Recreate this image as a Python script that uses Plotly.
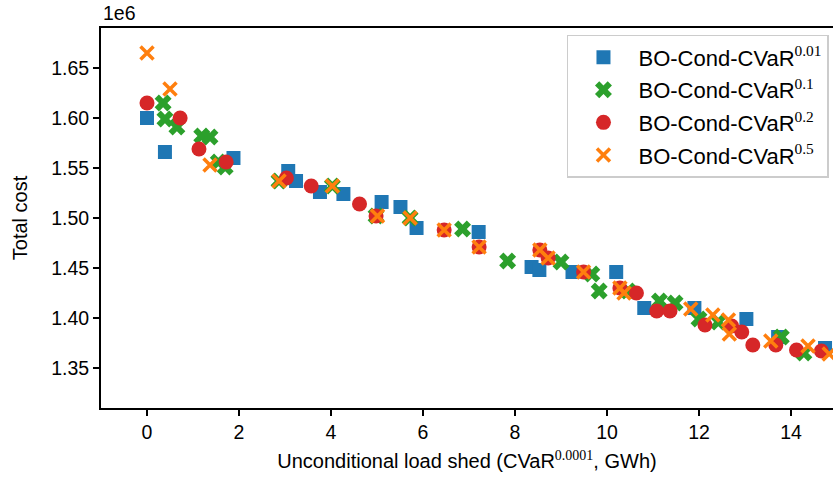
import plotly.graph_objects as go

# Series: BO-Cond-CVaR^0.01
x_001 = [0.0, 0.39, 1.88, 3.07, 3.24, 3.76, 4.27, 5.10, 5.51, 5.86, 7.21, 8.36, 8.53, 9.25, 10.20, 10.81, 11.90, 13.03, 13.72, 14.74]
y_001 = [1.600, 1.566, 1.560, 1.547, 1.537, 1.526, 1.524, 1.516, 1.511, 1.490, 1.486, 1.451, 1.448, 1.446, 1.446, 1.410, 1.410, 1.399, 1.381, 1.370]

# Series: BO-Cond-CVaR^0.1
x_01 = [0.35, 0.39, 0.65, 1.19, 1.37, 1.55, 1.70, 2.87, 4.03, 4.98, 5.72, 6.86, 7.84, 9.00, 9.67, 9.83, 10.46, 11.14, 11.48, 12.00, 12.42, 13.79, 14.28]
y_01 = [1.615, 1.599, 1.591, 1.582, 1.581, 1.556, 1.551, 1.537, 1.532, 1.502, 1.500, 1.489, 1.457, 1.456, 1.444, 1.427, 1.427, 1.417, 1.415, 1.399, 1.396, 1.381, 1.365]

# Series: BO-Cond-CVaR^0.2
x_02 = [0.0, 0.72, 1.13, 1.72, 3.03, 3.57, 4.62, 4.98, 6.46, 7.22, 8.54, 8.72, 9.49, 10.28, 10.64, 11.08, 11.37, 12.13, 12.71, 12.93, 13.17, 13.67, 14.12, 14.66]
y_02 = [1.615, 1.600, 1.569, 1.556, 1.540, 1.532, 1.514, 1.502, 1.488, 1.471, 1.468, 1.460, 1.446, 1.430, 1.425, 1.407, 1.407, 1.393, 1.392, 1.386, 1.373, 1.373, 1.368, 1.367]

# Series: BO-Cond-CVaR^0.5
x_05 = [0.0, 0.50, 1.37, 2.87, 4.03, 5.01, 5.72, 6.46, 7.22, 8.54, 8.72, 9.49, 10.28, 10.37, 11.82, 12.30, 12.64, 12.66, 13.56, 14.37, 14.83]
y_05 = [1.665, 1.629, 1.553, 1.537, 1.532, 1.502, 1.500, 1.488, 1.471, 1.468, 1.460, 1.446, 1.430, 1.425, 1.409, 1.403, 1.398, 1.384, 1.377, 1.372, 1.364]

x_ticks = [0, 2, 4, 6, 8, 10, 12, 14]
y_ticks = [1.35, 1.40, 1.45, 1.50, 1.55, 1.60, 1.65]

SERIF = "Liberation Serif, DejaVu Serif, serif"

def sup_label(base, sup):
    return f"{base}<sup><span style='font-family:{SERIF}'>{sup}</span></sup>"

fig = go.Figure()

fig.add_trace(go.Scatter(
    x=x_001, y=[v * 1e6 for v in y_001], mode="markers",
    name=sup_label("BO-Cond-CVaR", "0.01"), legendgroup="a",
    marker=dict(symbol="square", size=14, color="#1f77b4", line=dict(width=0)),
))
fig.add_trace(go.Scatter(
    x=x_01, y=[v * 1e6 for v in y_01], mode="markers",
    name=sup_label("BO-Cond-CVaR", "0.1"), legendgroup="b",
    marker=dict(symbol="x", size=15, color="#2ca02c", line=dict(width=0)),
))
fig.add_trace(go.Scatter(
    x=x_02, y=[v * 1e6 for v in y_02], mode="markers",
    name=sup_label("BO-Cond-CVaR", "0.2"), legendgroup="c",
    marker=dict(symbol="circle", size=15, color="#d62728", line=dict(width=0)),
))
fig.add_trace(go.Scatter(
    x=x_05, y=[v * 1e6 for v in y_05], mode="markers",
    name=sup_label("BO-Cond-CVaR", "0.5"), legendgroup="d",
    marker=dict(symbol="x-thin", size=13, color="#ff7f0e",
                line=dict(width=3.5, color="#ff7f0e")),
))

fig.update_layout(
    width=833, height=480,
    margin=dict(l=101, r=0, t=28, b=72),
    paper_bgcolor="white", plot_bgcolor="white",
    font=dict(family="Liberation Sans, Arial, sans-serif", size=19.5, color="black"),
    showlegend=True,
    legend=dict(
        x=0.9945, y=0.982, xanchor="right", yanchor="top",
        bgcolor="rgba(255,255,255,0.8)", bordercolor="#cccccc", borderwidth=1.5,
        font=dict(size=22, color="black"),
        tracegroupgap=1, itemwidth=60,
    ),
    annotations=[dict(
        text="1e6", xref="paper", yref="paper", x=0, y=1, xanchor="left", yanchor="bottom",
        yshift=2, showarrow=False, font=dict(size=19.5, color="black"),
    )],
)

fig.update_xaxes(
    range=[-1, -1 + 732 / 46], tickmode="array", tickvals=x_ticks,
    ticktext=[str(t) for t in x_ticks],
    showgrid=False, zeroline=False,
    showline=True, linecolor="black", linewidth=2, mirror=True,
    ticks="outside", ticklen=6, tickwidth=1.5, tickcolor="black",
    tickfont=dict(size=19.5),
    title=dict(text=sup_label("Unconditional load shed (CVaR", "0.0001") + ", GWh)",
               font=dict(size=20), standoff=12),
)
fig.update_yaxes(
    range=[1.310e6, 1.690e6], tickmode="array", tickvals=[v * 1e6 for v in y_ticks],
    ticktext=[f"{t:.2f}" for t in y_ticks],
    showgrid=False, zeroline=False,
    showline=True, linecolor="black", linewidth=2, mirror=False,
    ticks="outside", ticklen=6, tickwidth=1.5, tickcolor="black",
    tickfont=dict(size=19.5),
    title=dict(text="Total cost", font=dict(size=20), standoff=18),
)

fig.write_html("out.html", config={"displayModeBar": False},
               post_script="document.body.style.margin='0';")
